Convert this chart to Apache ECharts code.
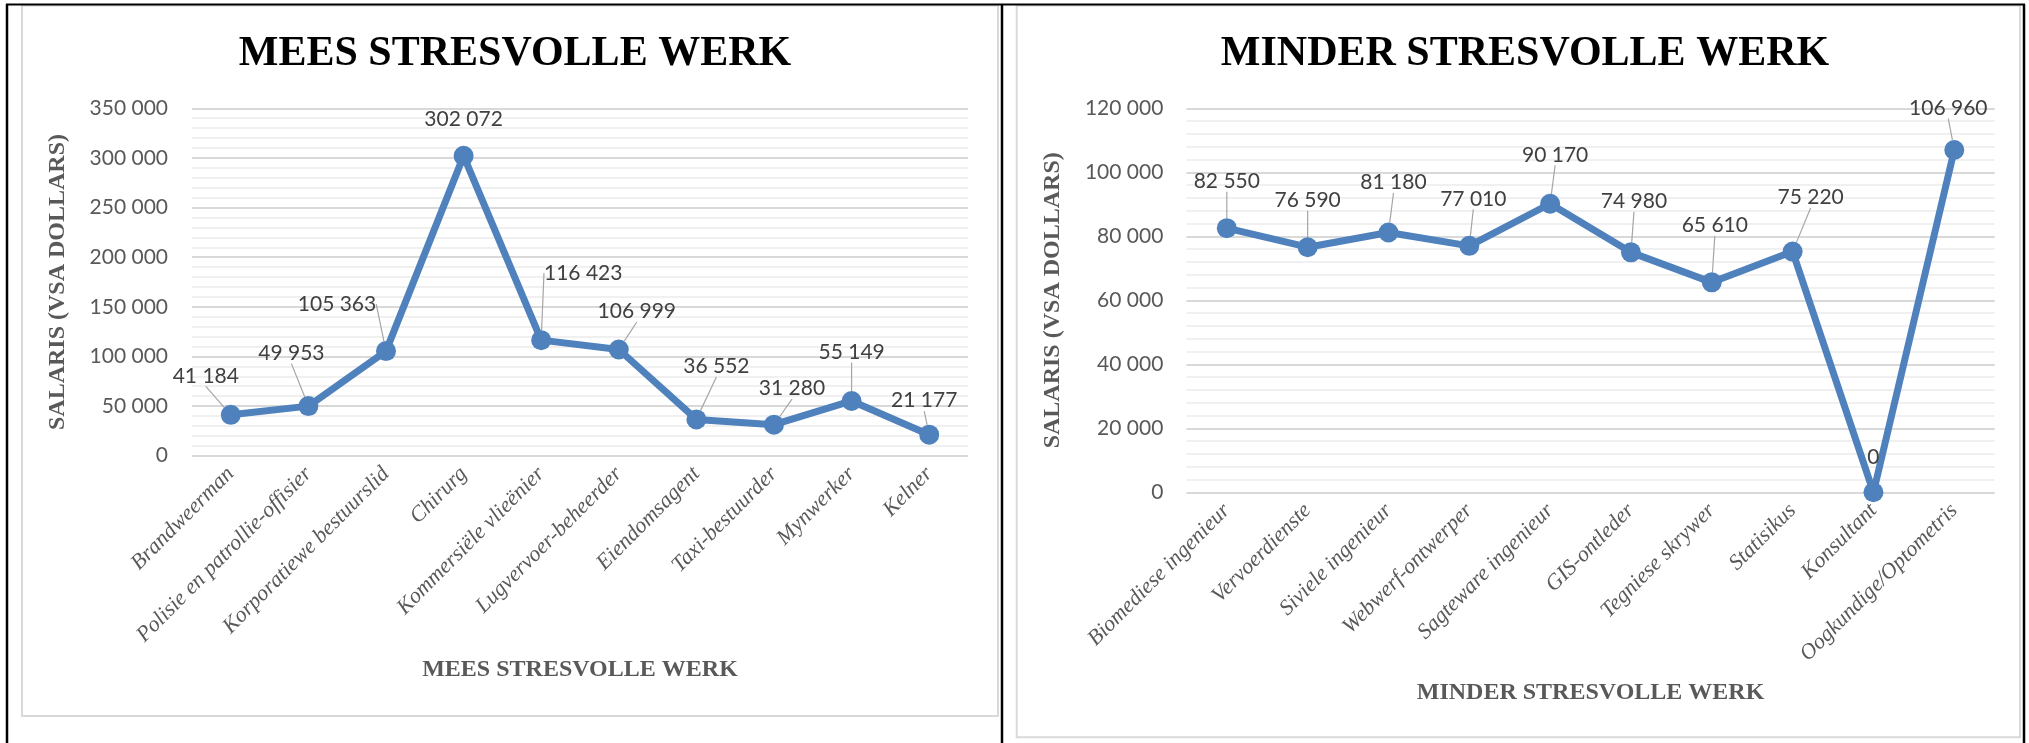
<!DOCTYPE html>
<html>
<head>
<meta charset="utf-8">
<script src="https://cdn.jsdelivr.net/npm/echarts@6/dist/echarts.min.js"></script>
<style>
html,body{margin:0;padding:0;background:#fff;}
#c{width:2029px;height:743px;}
</style>
</head>
<body>
<div id="c"></div>
<script>
// ---- data ----
const leftTitle = 'MEES STRESVOLLE WERK';
const rightTitle = 'MINDER STRESVOLLE WERK';
const yAxisTitle = 'SALARIS (VSA DOLLARS)';
const leftCategories = ['Brandweerman','Polisie en patrollie-offisier','Korporatiewe bestuurslid','Chirurg','Kommersiële vlieënier','Lugvervoer-beheerder','Eiendomsagent','Taxi-bestuurder','Mynwerker','Kelner'];
const leftValues = [41184, 49953, 105363, 302072, 116423, 106999, 36552, 31280, 55149, 21177];
const rightCategories = ['Biomediese ingenieur','Vervoerdienste','Siviele ingenieur','Webwerf-ontwerper','Sagteware ingenieur','GIS-ontleder','Tegniese skrywer','Statisikus','Konsultant','Oogkundige/Optometris'];
const rightValues = [82550, 76590, 81180, 77010, 90170, 74980, 65610, 75220, 0, 106960];
const leftYMax = 350000, leftYStep = 50000;
const rightYMax = 120000, rightYStep = 20000;

// ---- label placement (style) ----
const leftLabelOffsets = [[-25,-39],[-17,-53],[-49,-47],[0,-37],[42,-67],[18,-38],[20,-53],[18,-36],[0,-49],[-5,-34]];
const leftLabelLines = [true,true,true,false,true,true,true,true,true,true];
const rightLabelOffsets = [[0,-47],[0,-47],[5,-50],[4,-47],[5,-49],[3,-51],[3,-57],[18,-54],[0,-35],[-6,-42]];
const rightLabelLines = [true,true,true,true,true,true,true,true,false,true];

const BLUE = '#4F81BD';
const GRAY = '#595959';
function fmt(v){ return String(v).replace(/\B(?=(\d{3})+(?!\d))/g, ' '); }

function makeSeries(idx, values, lineFlags, offsets){
  return {
    type: 'line',
    xAxisIndex: idx, yAxisIndex: idx,
    data: values.map((v,i)=>({value:v, labelLine:{show: lineFlags[i]}})),
    symbol: 'circle', symbolSize: 20,
    lineStyle: {color: BLUE, width: 7},
    itemStyle: {color: BLUE},
    z: 3,
    label: {
      show: true, position: 'inside',
      formatter: p => fmt(p.value),
      fontFamily: 'Lato', fontSize: 21, color: '#404040'
    },
    labelLine: {show: true, lineStyle: {color: '#A6A6A6', width: 1.2}},
    labelLayout: p => ({dx: offsets[p.dataIndex][0], dy: offsets[p.dataIndex][1], hideOverlap: false}),
    animation: false
  };
}

function makeX(idx, cats, nameGap){
  return {
    type: 'category', gridIndex: idx, data: cats, boundaryGap: true,
    axisLine: {show: false}, axisTick: {show: false},
    axisLabel: {interval: 0, rotate: 45, margin: 15, fontFamily: 'Liberation Serif', fontStyle: 'italic', fontSize: 22, color: GRAY},
    name: idx === 0 ? leftTitle : rightTitle,
    nameLocation: 'middle', nameGap: nameGap,
    nameTextStyle: {fontFamily: 'Liberation Serif', fontWeight: 'bold', fontSize: 24, color: GRAY}
  };
}
function makeY(idx, max, step, margin){
  return {
    type: 'value', gridIndex: idx, min: 0, max: max, interval: step,
    axisLine: {show: false}, axisTick: {show: false},
    axisLabel: {formatter: fmt, margin: margin, fontFamily: 'Lato', fontSize: 21, color: GRAY},
    splitLine: {show: true, lineStyle: {color: '#D9D9D9', width: 2}},
    minorTick: {show: false, splitNumber: 5},
    minorSplitLine: {show: true, lineStyle: {color: '#EBEBEB', width: 1.5}},
    name: yAxisTitle, nameLocation: 'middle', nameRotate: 90, nameGap: 122,
    nameTextStyle: {fontFamily: 'Liberation Serif', fontWeight: 'bold', fontSize: 24, color: GRAY}
  };
}

const chart = echarts.init(document.getElementById('c'), null, {renderer: 'canvas'});
chart.setOption({
  animation: false,
  backgroundColor: '#fff',
  title: [
    {text: leftTitle, left: 510, top: 28, textAlign: 'center', textStyle: {fontFamily: 'Liberation Serif', fontWeight: 'bold', fontSize: 42, color: '#000'}},
    {text: rightTitle, left: 1520, top: 28, textAlign: 'center', textStyle: {fontFamily: 'Liberation Serif', fontWeight: 'bold', fontSize: 42, color: '#000'}}
  ],
  grid: [
    {left: 192, top: 108.3, width: 776, height: 347.4},
    {left: 1186.4, top: 108.3, width: 808.3, height: 384}
  ],
  xAxis: [makeX(0, leftCategories, 202), makeX(1, rightCategories, 188)],
  yAxis: [makeY(0, leftYMax, leftYStep, 24), makeY(1, rightYMax, rightYStep, 23)],
  series: [
    makeSeries(0, leftValues, leftLabelLines, leftLabelOffsets),
    makeSeries(1, rightValues, rightLabelLines, rightLabelOffsets)
  ],
  graphic: [
    {type: 'rect', shape: {x: 22, y: 5.5, width: 976, height: 710.5}, style: {fill: null, stroke: '#D9D9D9', lineWidth: 2}, z: -1},
    {type: 'rect', shape: {x: 1016.7, y: 5.5, width: 1003.3, height: 731.8}, style: {fill: null, stroke: '#D9D9D9', lineWidth: 2}, z: -1},
    {type: 'line', shape: {x1: 6, y1: 4.5, x2: 2025, y2: 4.5}, style: {stroke: '#000', lineWidth: 2}},
    {type: 'line', shape: {x1: 7, y1: 4, x2: 7, y2: 743}, style: {stroke: '#000', lineWidth: 2.5}},
    {type: 'line', shape: {x1: 1002, y1: 4, x2: 1002, y2: 743}, style: {stroke: '#000', lineWidth: 2.5}},
    {type: 'line', shape: {x1: 2024, y1: 4, x2: 2024, y2: 743}, style: {stroke: '#000', lineWidth: 2.5}}
  ]
});
</script>
</body>
</html>
